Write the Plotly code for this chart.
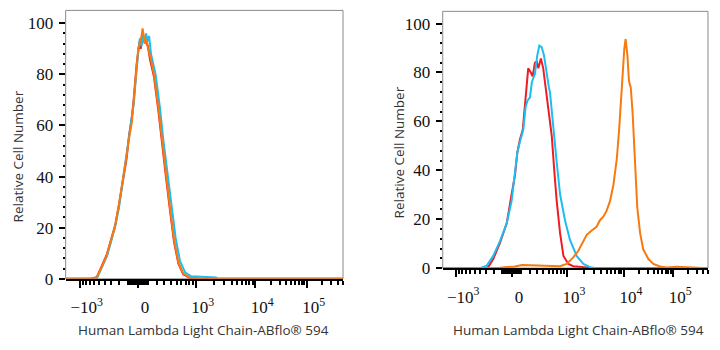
import numpy as np
import plotly.graph_objects as go

# ---------------- data (x in display channels 0-1024, y = relative cell number) -------------
L_RED_X = [0, 92, 115, 131, 152, 168, 183, 196, 207, 217, 225, 234, 244, 251, 256, 262, 268, 273, 277,
           281, 285, 289, 293, 299, 304, 311, 326, 342, 355, 369, 385, 400, 416, 434, 459, 496, 1024]
L_RED_Y = [0, 0, 0.6, 4.2, 9.5, 15.5, 21, 28.5, 36, 43, 47, 56, 63, 70, 77, 84, 89, 93, 90,
           94, 96, 93, 94, 92, 91, 86, 79, 66, 53, 41, 27, 14.5, 6, 1.8, 0.3, 0, 0]

L_CYAN_X = [0, 97, 116, 132, 153, 169, 184, 197, 208, 219, 226, 236, 245, 252, 258, 263, 269, 274, 280,
            285, 291, 297, 302, 308, 315, 332, 348, 361, 376, 391, 406, 422, 441, 463, 496, 533, 555, 562, 1024]
L_CYAN_Y = [0, 0, 0.4, 4, 9, 15, 21, 28, 36, 43, 49, 55.5, 62, 69, 77, 84, 90, 94, 91,
            95, 92, 96, 93, 95, 88, 80, 67, 54, 42, 29, 16, 7, 2.5, 1, 0.8, 0.8, 0.5, 0, 0]

L_ORANGE_X = [0, 90, 115, 130, 151, 167, 182, 195, 207, 216, 225, 234, 244, 250, 256, 262, 268, 273, 276,
              280, 284, 289, 293, 299, 304, 311, 326, 342, 355, 369, 385, 400, 416, 434, 459, 496, 1024]
L_ORANGE_Y = [0, 0, 0.5, 4, 9, 15, 20.4, 28, 35.6, 42, 48.3, 55, 61, 68, 76.2, 83, 90.1, 92, 93,
              95, 98, 95, 92, 93.9, 90, 87.6, 80, 67.3, 54.6, 41.9, 28, 15.3, 6.5, 2, 0.4, 0.1, 0]

R_RED_X = [0, 167, 176, 195, 221, 247, 266, 279, 288, 298, 309, 318, 324, 330, 340, 347, 356, 363, 369,
           379, 388, 397, 408, 421, 430, 440, 453, 466, 485, 504, 556, 580, 1024]
R_RED_Y = [0, 0, 0.5, 3.7, 10.3, 18.3, 30.2, 38, 47.3, 52.6, 56.6, 68.5, 74, 81.7, 80, 78.4, 84, 84.4, 81.7,
           85.7, 81.7, 74.5, 65.9, 54, 40.8, 27.5, 14.3, 5, 1.7, 0.8, 0.3, 0, 0]

R_CYAN_X = [0, 144, 170, 195, 221, 247, 266, 279, 288, 298, 311, 320, 327, 337, 344, 356, 365, 373, 382,
            391, 401, 410, 414, 427, 440, 453, 472, 491, 517, 543, 569, 594, 1024]
R_CYAN_Y = [0, 0, 1, 5, 11, 18.3, 27.5, 38, 47.3, 51.7, 56.6, 65.9, 68.5, 69.8, 76, 79.5, 87, 91, 90.4,
            87, 79, 73.8, 72, 56.6, 43.4, 30.2, 19.6, 11.6, 5, 1.7, 0.4, 0, 0]

R_ORANGE_X = [0, 221, 279, 306, 337, 376, 406, 434, 453, 466, 479, 485, 504, 523, 543, 556, 575, 594, 607,
              620, 633, 646, 659, 672, 681, 688, 695, 701, 706, 713, 719, 726, 733, 742, 751, 762, 774, 794,
              813, 839, 865, 903, 942, 967, 1024]
R_ORANGE_Y = [0, 0.2, 0.7, 1.3, 1.2, 1.0, 0.8, 0.6, 0.8, 1.3, 1.7, 2.4, 4.4, 7, 11, 13.6, 15.4, 16.9, 19.6,
              21, 23.5, 27.5, 34.1, 44.7, 56.6, 69.8, 82.9, 89.7, 93.7, 87, 76.5, 73.8, 63.6, 43.4, 24.9,
              14.3, 7.7, 3.7, 1.7, 0.7, 0.3, 0.6, 0.5, 0.2, 0]

MAJOR_VALUES = [-1000, 0, 1000, 10000, 100000]
MAJOR_LABELS = ["\u221210<sup>3</sup>", "0", "10<sup>3</sup>", "10<sup>4</sup>", "10<sup>5</sup>"]
Y_TICKS = [0, 20, 40, 60, 80, 100]

X_TITLE = "Human Lambda Light Chain-ABflo\u00ae 594"
Y_TITLE = "Relative Cell Number"

RED, CYAN, ORANGE = "#ee1d24", "#1cbdf0", "#f77a10"

# ---------------- biexponential display scale (value -> channel) -------------
ANCHOR_U = [-1, 0, 1, 2, 3]
ANCHOR_CH = [52, 267, 480, 700, 890]


def to_channel(v):
    v = np.asarray(v, float)
    a = np.abs(v)
    lin = np.arcsinh(a / 300) / np.arcsinh(1000 / 300)
    lg = 1 + np.log10(np.maximum(a, 1e-9) / 1000)
    u = np.sign(v) * np.where(a <= 1000, lin, lg)
    ch = np.interp(u, ANCHOR_U, ANCHOR_CH)
    ch = np.where(u > 3, ANCHOR_CH[-1] + (u - 3) * (ANCHOR_CH[-1] - ANCHOR_CH[-2]), ch)
    ch = np.where(u < -1, ANCHOR_CH[0] + (u + 1) * (ANCHOR_CH[1] - ANCHOR_CH[0]), ch)
    return ch


major_ch = list(to_channel(MAJOR_VALUES))
minor_vals = []
for n in range(1, 6):
    for k in range(1, 10):
        val = k * 10 ** n
        if val in MAJOR_VALUES:
            continue
        minor_vals.append(val)
        if val < 1000:
            minor_vals.append(-val)
minor_ch = [c for c in to_channel(minor_vals) if 0 <= c <= 1024]
y_minor = [v for v in range(4, 100, 4) if v % 20 != 0]

fig = go.Figure()

panels = [
    ("x", "y", L_RED_X, L_RED_Y, L_CYAN_X, L_CYAN_Y, L_ORANGE_X, L_ORANGE_Y),
    ("x2", "y2", R_RED_X, R_RED_Y, R_CYAN_X, R_CYAN_Y, R_ORANGE_X, R_ORANGE_Y),
]
for xa, ya, rx, ry, cx, cy, ox, oy in panels:
    for xs, ys, col in [(rx, ry, RED), (cx, cy, CYAN), (ox, oy, ORANGE)]:
        fig.add_trace(go.Scatter(x=xs, y=ys, mode="lines", xaxis=xa, yaxis=ya,
                                 line=dict(color=col, width=2), showlegend=False,
                                 hoverinfo="skip"))

serif = "Liberation Serif, Times New Roman, serif"
sans = "Open Sans, Noto Sans, sans-serif"


def xaxis_cfg(domain, anchor):
    return dict(domain=domain, anchor=anchor, range=[0, 1024], showgrid=False, zeroline=False,
                showline=True, linecolor="black", linewidth=2,
                ticks="outside", ticklen=7, tickwidth=2, tickcolor="black",
                tickmode="array", tickvals=major_ch, ticktext=MAJOR_LABELS,
                tickfont=dict(family=serif, size=17, color="#111"), ticklabelshift=7,
                ticklabelstandoff=5,
                minor=dict(tickmode="array", tickvals=minor_ch, ticks="outside", ticklen=4,
                           tickwidth=1.5, tickcolor="black", showgrid=False))


def yaxis_cfg(domain, anchor):
    return dict(domain=domain, anchor=anchor, range=[0, 105], showgrid=False, zeroline=False,
                showline=False, ticks="outside", ticklen=6, tickwidth=2, tickcolor="black",
                tickmode="array", tickvals=Y_TICKS, ticktext=[str(t) for t in Y_TICKS],
                tickfont=dict(family=serif, size=17, color="#111"), ticklabelstandoff=2,
                minor=dict(tickmode="array", tickvals=y_minor, ticks="outside", ticklen=2,
                           tickwidth=1.5, tickcolor="black", showgrid=False))


fig.update_layout(
    width=720, height=350, margin=dict(l=0, r=0, t=0, b=0),
    paper_bgcolor="white", plot_bgcolor="white",
    xaxis=xaxis_cfg([0.0912, 0.4764], "y"),
    yaxis=yaxis_cfg([0.18, 0.9694], "x"),
    xaxis2=xaxis_cfg([0.6149, 0.9833], "y2"),
    yaxis2=yaxis_cfg([0.2114, 0.9666], "x2"),
)

for xr, yr in [("x domain", "y domain"), ("x2 domain", "y2 domain")]:
    fig.add_shape(type="rect", xref=xr, yref=yr, x0=0, x1=1, y0=0, y1=1,
                  line=dict(color="#8a8a8a", width=1), layer="below")

title_font = dict(family=sans, size=13.5, color="#333")
for x, y, txt, ang in [(0.2833, 0.03, X_TITLE, 0), (0.8028, 0.03, X_TITLE, 0),
                       (0.025, 0.54, Y_TITLE, -90), (0.554, 0.5514, Y_TITLE, -90)]:
    fig.add_annotation(x=x, y=y, xref="paper", yref="paper", text=txt, showarrow=False,
                       textangle=ang, font=title_font, xanchor="center", yanchor="middle")

fig.write_html("out.html")
